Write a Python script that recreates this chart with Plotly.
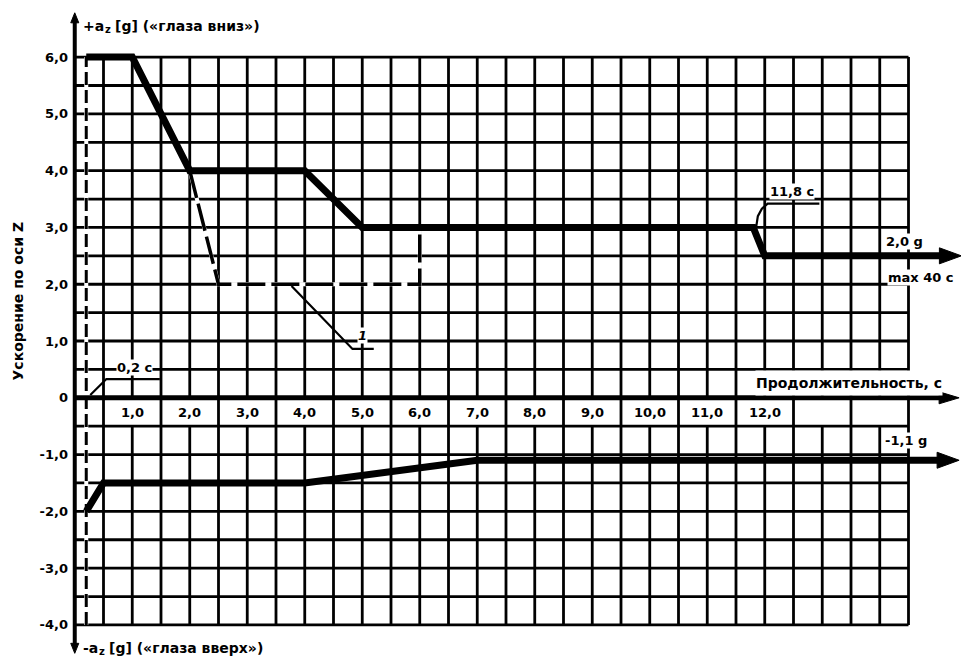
import numpy as np
import plotly.graph_objects as go

# Acceleration profiles along Z (time in s, acceleration in g)
pos_t = [0.2, 1.0, 2.0, 4.0, 5.0, 11.8, 12.0, 15.1]
pos_g = [6.0, 6.0, 4.0, 4.0, 3.0, 3.0, 2.5, 2.5]

neg_t = [0.2, 0.5, 4.0, 7.0, 15.05]
neg_g = [-2.0, -1.5, -1.5, -1.1, -1.1]

# Curve 1 (alternative profile, dashed)
alt_t = [2.0, 2.5, 6.0, 6.0]
alt_g = [4.0, 2.0, 2.0, 3.0]

onset_t = 0.2  # onset marker, s

x_tick_vals = list(range(1, 13))
x_tick_text = ["1,0", "2,0", "3,0", "4,0", "5,0", "6,0", "7,0", "8,0", "9,0",
               "10,0", "11,0", "12,0"]
y_tick_vals = [-4, -3, -2, -1, 0, 1, 2, 3, 4, 5, 6]
y_tick_text = ["-4,0", "-3,0", "-2,0", "-1,0", "0", "1,0", "2,0", "3,0",
               "4,0", "5,0", "6,0"]

GRID_X = (0.0, 14.5)
GRID_Y = (-4.0, 6.0)
STEP = 0.5
LABEL_ROW = (-0.5, 0.0)  # row under the time axis that holds the tick labels

FONT = dict(family="DejaVu Sans", size=13, color="black", weight="bold")

fig = go.Figure()

# grid: whole-second lines are interrupted in the tick-label row
gx, gy = [], []
for xv in np.arange(GRID_X[0] + STEP, GRID_X[1] + 1e-9, STEP):
    if abs(xv - round(xv)) < 1e-9:
        gx += [xv, xv, None, xv, xv, None]
        gy += [GRID_Y[0], LABEL_ROW[0], None, LABEL_ROW[1], GRID_Y[1], None]
    else:
        gx += [xv, xv, None]
        gy += [GRID_Y[0], GRID_Y[1], None]
for yv in np.arange(GRID_Y[0], GRID_Y[1] + 1e-9, STEP):
    if abs(yv) < 1e-9:
        continue
    gx += [GRID_X[0], GRID_X[1], None]
    gy += [yv, yv, None]
fig.add_trace(go.Scatter(x=gx, y=gy, mode="lines",
                         line=dict(color="black", width=2.8),
                         hoverinfo="skip", showlegend=False))

# onset line
fig.add_trace(go.Scatter(x=[onset_t, onset_t], y=[GRID_Y[0], GRID_Y[1]],
                         mode="lines", line=dict(color="white", width=4),
                         hoverinfo="skip", showlegend=False))
fig.add_trace(go.Scatter(x=[onset_t, onset_t], y=[GRID_Y[0], GRID_Y[1]],
                         mode="lines",
                         line=dict(color="black", width=3, dash="13px,5px"),
                         hoverinfo="skip", showlegend=False))

# axes
fig.add_trace(go.Scatter(x=[0, 15.05], y=[0, 0], mode="lines",
                         line=dict(color="black", width=5),
                         hoverinfo="skip", showlegend=False))
fig.add_trace(go.Scatter(x=[0, 0], y=[-4.35, 6.65], mode="lines",
                         line=dict(color="black", width=4),
                         hoverinfo="skip", showlegend=False))

# curve 1
fig.add_trace(go.Scatter(x=alt_t, y=alt_g, mode="lines",
                         line=dict(color="white", width=4),
                         hoverinfo="skip", showlegend=False))
fig.add_trace(go.Scatter(x=alt_t, y=alt_g, mode="lines",
                         line=dict(color="black", width=3.5, dash="28px,6px"),
                         hoverinfo="skip", showlegend=False))

# main profiles
for t, g in ((pos_t, pos_g), (neg_t, neg_g)):
    fig.add_trace(go.Scatter(x=t, y=g, mode="lines",
                             line=dict(color="black", width=7),
                             hoverinfo="skip", showlegend=False))

# leader lines
leaders = [
    ([0.27, 0.55, 1.48], [0.05, 0.33, 0.33]),
    ([3.77, 4.83, 5.2], [1.97, 0.86, 0.86]),
    ([11.85, 11.88, 11.95, 12.05, 12.95], [3.0, 3.2, 3.33, 3.42, 3.42]),
]
for lx, ly in leaders:
    fig.add_trace(go.Scatter(x=lx, y=ly, mode="lines",
                             line=dict(color="black", width=2.2),
                             hoverinfo="skip", showlegend=False))


def arrow_head(x, y, direction, length, half):
    if direction == "right":
        path = f"M0,0 L{-length},{half} L{-length},{-half} Z"
    elif direction == "up":
        path = f"M0,0 L{-half},{-length} L{half},{-length} Z"
    else:
        path = f"M0,0 L{-half},{length} L{half},{length} Z"
    fig.add_shape(type="path", xref="x", yref="y", xsizemode="pixel",
                  ysizemode="pixel", xanchor=x, yanchor=y, path=path,
                  fillcolor="black", line=dict(color="black", width=1))


arrow_head(15.38, 0, "right", 20, 6)
arrow_head(15.42, pos_g[-1], "right", 22, 8)
arrow_head(15.38, neg_g[-1], "right", 22, 8)
arrow_head(0, 6.78, "up", 10, 4)
arrow_head(0, -4.5, "down", 10, 4)

# time tick labels in the row below the axis
for xv, txt in zip(x_tick_vals, x_tick_text):
    fig.add_annotation(x=xv, y=-0.25, text=txt, showarrow=False,
                       font=FONT, xanchor="center", yanchor="middle")

labels = [
    dict(x=1.04, y=0.53, text="0,2 с"),
    dict(x=12.47, y=3.63, text="11,8 с"),
    dict(x=14.43, y=2.76, text="2,0 g"),
    dict(x=14.72, y=2.11, text="max 40 с"),
    dict(x=14.45, y=-0.76, text="-1,1 g"),
    dict(x=5.0, y=1.09, text="1", italic=True),
]
for lb in labels:
    font = dict(FONT, style="italic") if lb.get("italic") else FONT
    fig.add_annotation(x=lb["x"], y=lb["y"], text=lb["text"], showarrow=False,
                       font=font, bgcolor="white", borderpad=0,
                       xanchor="center", yanchor="middle")

fig.add_annotation(x=15.1, y=0.26, text="Продолжительность, с",
                   showarrow=False, font=dict(FONT, size=14), bgcolor="white",
                   height=24, borderpad=0, xanchor="right", yanchor="middle")

# axis direction captions: sign + "a", subscript "z", then the rest
captions = [
    # (sign, y, pixel width of sign+"a", rest of caption)
    ("+", 6.55, 21, "[g] («глаза вниз»)"),
    ("-", -4.4, 15, "[g] («глаза вверх»)"),
]
for sign, y0, w, rest in captions:
    fig.add_annotation(x=0.12, y=y0, text=sign + "a", showarrow=False,
                       font=dict(FONT, size=14), xanchor="left",
                       yanchor="middle", borderpad=0)
    fig.add_annotation(x=0.12, y=y0, text="z", showarrow=False,
                       font=dict(FONT, size=10), xanchor="left",
                       yanchor="middle", xshift=w + 1, yshift=-4,
                       borderpad=0)
    fig.add_annotation(x=0.12, y=y0, text=rest, showarrow=False,
                       font=dict(FONT, size=14), xanchor="left",
                       yanchor="middle", xshift=w + 11, borderpad=0)

fig.add_annotation(xref="paper", x=-0.057, y=1.7, text="Ускорение по оси Z",
                   textangle=-90, showarrow=False, font=dict(FONT, size=14),
                   xanchor="center", yanchor="middle")

fig.update_layout(
    width=961, height=661,
    margin=dict(l=69, r=0, t=6, b=2),
    paper_bgcolor="white", plot_bgcolor="white",
    showlegend=False,
    xaxis=dict(range=[-0.1, 15.413], visible=False, fixedrange=True),
    yaxis=dict(range=[-4.6, 6.9], tickvals=y_tick_vals, ticktext=y_tick_text,
               showgrid=False, zeroline=False, ticks="", showline=False,
               tickfont=FONT, automargin=False, fixedrange=True),
)

fig.write_html("out.html")
